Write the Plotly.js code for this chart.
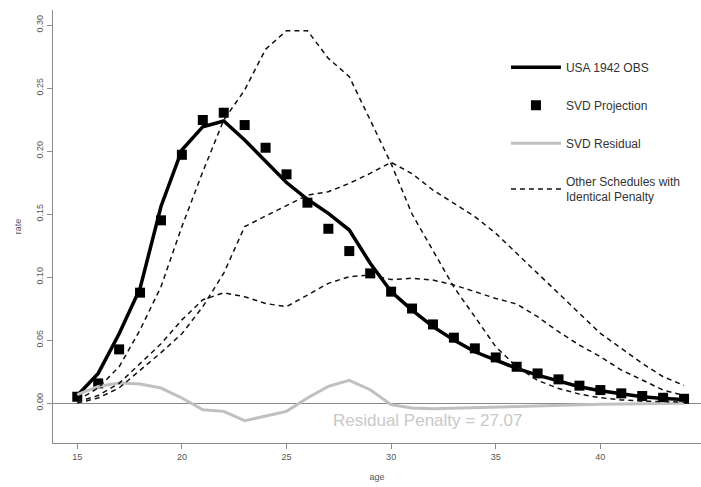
<!DOCTYPE html>
<html>
<head>
<meta charset="utf-8">
<script src="https://cdn.plot.ly/plotly-3.0.1.min.js"></script>
<style>html,body{margin:0;padding:0;background:#fff;}#chart{width:701px;height:487px;}</style>
</head>
<body>
<div id="chart"></div>
<script>
const ages = [15,16,17,18,19,20,21,22,23,24,25,26,27,28,29,30,31,32,33,34,35,36,37,38,39,40,41,42,43,44];
const usaObs = [0.006,0.0235,0.055,0.091,0.156,0.2008,0.2193,0.2238,0.2087,0.1915,0.175,0.1617,0.1505,0.1373,0.111,0.0884,0.0738,0.0606,0.050,0.0407,0.0341,0.0275,0.0222,0.0177,0.0130,0.0098,0.0071,0.005,0.0037,0.0029];
const svdProjection = [0.005,0.0156,0.0426,0.0876,0.145,0.197,0.2246,0.2304,0.2206,0.2026,0.1815,0.159,0.1383,0.1206,0.1029,0.0884,0.0750,0.0624,0.0519,0.0434,0.0362,0.0288,0.0235,0.0188,0.0138,0.0103,0.0077,0.0056,0.0042,0.0034];
const svdResidual = [0.0066,0.0132,0.0159,0.0151,0.0119,0.004,-0.0053,-0.0066,-0.014,-0.0106,-0.0066,0.004,0.0132,0.018,0.0106,-0.0013,-0.004,-0.0045,-0.004,-0.0035,-0.003,-0.0025,-0.002,-0.0018,-0.0015,-0.001,-0.0008,-0.0005,-0.0003,-0.0002];
const otherA = [0.002,0.012,0.0288,0.058,0.0923,0.14,0.1836,0.2246,0.2484,0.2807,0.2955,0.2955,0.2735,0.259,0.2246,0.19,0.15,0.121,0.092,0.0685,0.0447,0.0288,0.018,0.0116,0.0071,0.0042,0.0025,0.0015,0.001,0.0008];
const otherB = [0.0,0.004,0.012,0.026,0.04,0.055,0.0765,0.103,0.14,0.1484,0.157,0.165,0.1677,0.1743,0.1823,0.191,0.182,0.169,0.1585,0.148,0.1347,0.1188,0.103,0.087,0.0712,0.0553,0.0434,0.0315,0.0209,0.014];
const otherC = [0.001,0.006,0.0156,0.0315,0.047,0.066,0.082,0.0875,0.0844,0.079,0.0765,0.0857,0.095,0.1003,0.1016,0.098,0.099,0.0976,0.0937,0.0884,0.083,0.0786,0.0685,0.0566,0.046,0.0368,0.0262,0.0183,0.0103,0.006];
const xTicks = [15,20,25,30,35,40];
const yTicks = [0,0.05,0.10,0.15,0.20,0.25,0.30];
const yTickText = ["0.00","0.05","0.10","0.15","0.20","0.25","0.30"];
const penaltyText = "Residual Penalty = 27.07";

const dashStyle = {color:'#111', width:1.5, dash:'5px,4px'};
const traces = [
  {x:ages, y:usaObs, mode:'lines', name:'USA 1942 OBS', legendgroup:'a', line:{color:'#000', width:3.5}},
  {x:ages, y:svdProjection, mode:'markers', name:'SVD Projection', legendgroup:'b', marker:{symbol:'square', size:10, color:'#000'}},
  {x:ages, y:svdResidual, mode:'lines', name:'SVD Residual', legendgroup:'c', line:{color:'#c0c0c0', width:3}},
  {x:ages, y:otherA, mode:'lines', name:'Other Schedules with<br>Identical Penalty', legendgroup:'d', line:dashStyle},
  {x:ages, y:otherB, mode:'lines', showlegend:false, legendgroup:'d', line:dashStyle},
  {x:ages, y:otherC, mode:'lines', showlegend:false, legendgroup:'d', line:dashStyle}
];

const axisCommon = {
  showgrid:false, showline:true, linecolor:'#8a8a8a', linewidth:1,
  ticks:'outside', ticklen:5, tickcolor:'#8a8a8a',
  tickfont:{family:'Liberation Sans, Arial, sans-serif', size:9, color:'#555'}
};

const layout = {
  width:701, height:487,
  margin:{l:53, r:0, t:10, b:44},
  paper_bgcolor:'#fff', plot_bgcolor:'#fff',
  font:{family:'Liberation Sans, Arial, sans-serif', color:'#333'},
  xaxis: Object.assign({}, axisCommon, {
    range:[13.84, 44.81], tickvals:xTicks, zeroline:false,
    title:{text:'age', font:{size:9, color:'#555'}, standoff:12}
  }),
  yaxis: Object.assign({}, axisCommon, {
    range:[-0.0317, 0.3119], tickvals:yTicks, ticktext:yTickText, tickangle:-90,
    zeroline:true, zerolinecolor:'#8a8a8a', zerolinewidth:1,
    title:{text:'rate', font:{size:9, color:'#555'}, standoff:12}
  }),
  showlegend:true,
  legend:{x:0.699, y:0.901, xanchor:'left', yanchor:'top', bgcolor:'rgba(0,0,0,0)',
    font:{size:12, color:'#333'}, tracegroupgap:19, traceorder:'grouped', itemwidth:50},
  annotations:[{x:31.75, y:-0.0135, xref:'x', yref:'y', text:penaltyText, showarrow:false,
    font:{size:17, color:'#c8c8c8', family:'Liberation Sans, Arial, sans-serif'}}]
};

Plotly.newPlot('chart', traces, layout, {displayModeBar:false, staticPlot:true});
</script>
</body>
</html>
